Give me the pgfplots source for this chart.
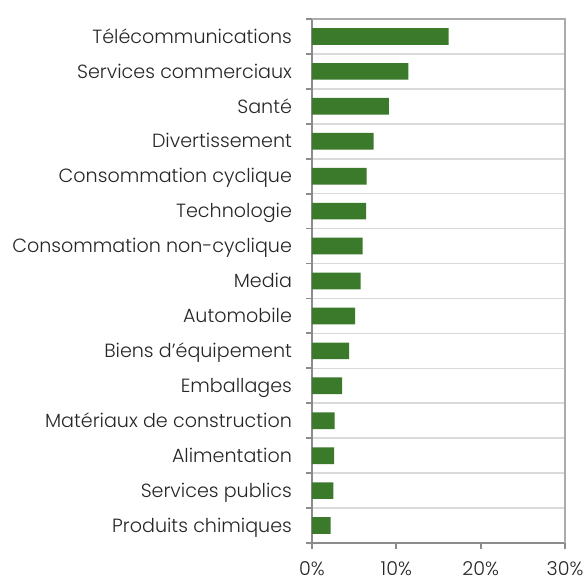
\documentclass[border=0pt]{standalone}
\usepackage{pgfplots}
\pgfplotsset{compat=1.18}
\usepackage{fontspec}
\setmainfont{Poppins Light}
\definecolor{bargreen}{HTML}{3A7A2A}
\definecolor{axgray}{HTML}{8C8C8C}
\definecolor{boxgray}{HTML}{ABABAB}
\definecolor{gridgray}{HTML}{D9D9D9}
\definecolor{txt}{HTML}{262626}
\begin{document}
\begin{tikzpicture}
\begin{axis}[
  scale only axis,
  width=126.5pt, height=262pt,
  xbar, bar width=8.35pt,
  xmin=0, xmax=30,
  ymin=-0.5, ymax=14.5,
  y dir=reverse,
  xtick={0,10,20,30},
  xticklabel={\pgfmathprintnumber{\tick}\%},
  ytick={0,...,14},
  yticklabels={Télécommunications,Services commerciaux,Santé,Divertissement,Consommation cyclique,Technologie,Consommation non-cyclique,Media,Automobile,Biens d'équipement,Emballages,Matériaux de construction,Alimentation,Services publics,Produits chimiques},
  every major y tick/.style={draw=none},
  minor ytick={-0.5,0.5,...,14.5},
  yminorgrids=true,
  minor grid style={gridgray, line width=0.8pt},
  axis line style={axgray, line width=0.9pt},
  tick align=outside,
  major tick length=3pt,
  minor tick length=3pt,
  tick style={axgray, line width=0.9pt},
  every minor y tick/.style={axgray, line width=0.9pt},
  tick label style={font=\fontsize{9.55}{11}\selectfont, text=txt},
  yticklabel style={anchor=east, text height=6.7pt, text depth=0pt, xshift=-3.5pt},
  xticklabel style={yshift=-2.8pt},
  /pgf/number format/assume math mode=true,
  axis x line*=bottom, axis y line*=left,
  clip=false,
]
\addplot[fill=bargreen, draw=none] coordinates {
(16.2,0) (11.43,1) (9.13,2) (7.32,3) (6.49,4) (6.41,5) (6.01,6) (5.77,7) (5.10,8) (4.39,9) (3.56,10) (2.69,11) (2.61,12) (2.54,13) (2.22,14)
};
\draw[boxgray, line width=0.9pt] (axis cs:30,14.5) -- (axis cs:30,-0.5) -- (axis cs:0,-0.5);
\end{axis}
\pgfresetboundingbox
\path (current axis.south west) ++(-156pt,-16.5pt) coordinate (bbA);
\path (current axis.north east) ++(11.5pt,9.5pt) coordinate (bbB);
\useasboundingbox (bbA) rectangle (bbB);
\end{tikzpicture}
\end{document}
